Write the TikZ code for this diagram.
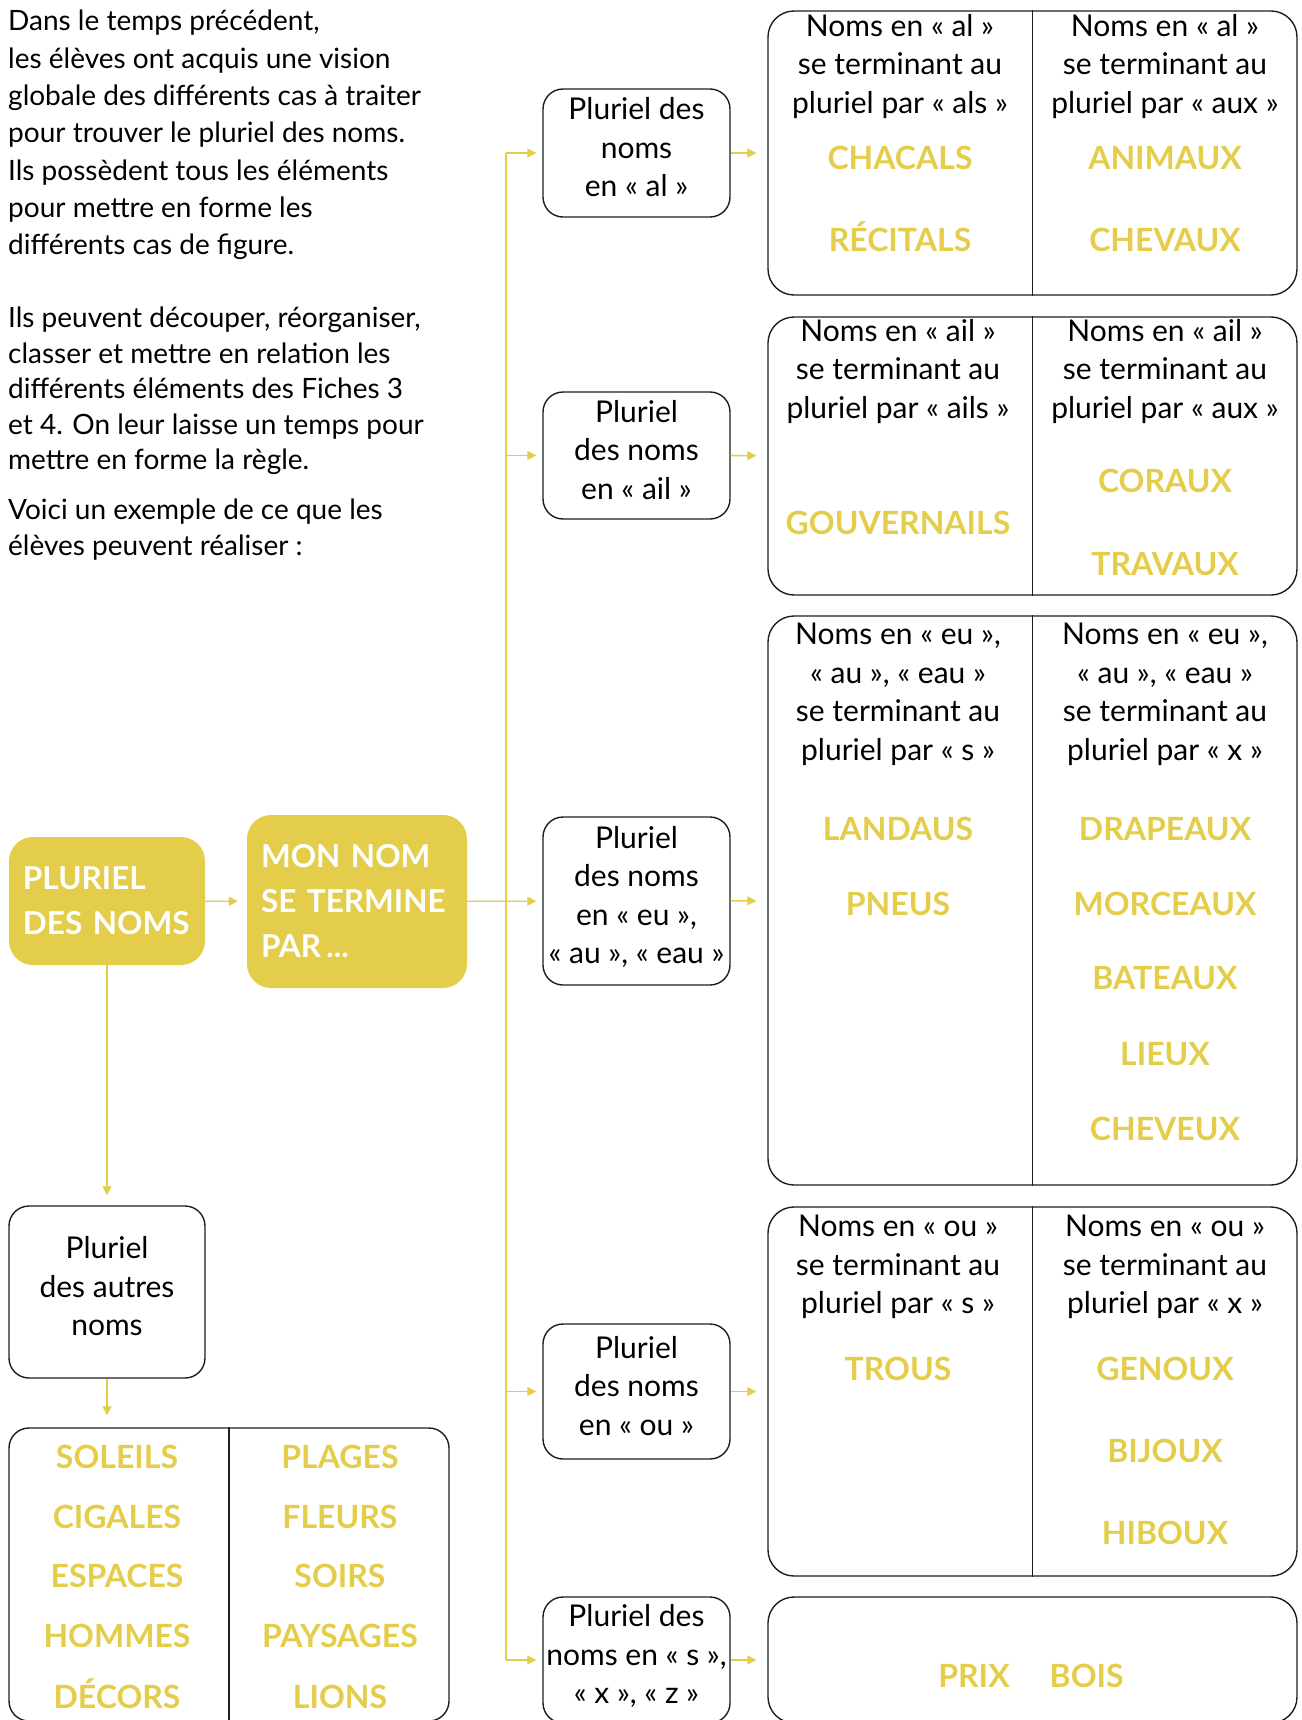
\documentclass[tikz,border=0pt]{standalone}
\usepackage{fontspec}
\setmainfont{Lato}
\usetikzlibrary{arrows.meta, positioning}
\definecolor{pyellow}{RGB}{227,205,74}
\definecolor{pline}{RGB}{30,30,30}
\hyphenpenalty=10000
\exhyphenpenalty=10000

\tikzset{
  box/.style={draw=pline, line width=1.4pt, rounded corners=20pt, inner sep=1pt, text depth=12pt, align=center, minimum width=187pt, font=\fontsize{30}{38.5}\selectfont},
  bigbox/.style={draw=pline, line width=1.4pt, rounded corners=26pt, minimum width=529pt},
  keybox/.style={fill=pyellow, rounded corners=24pt, text=white, align=left, inner xsep=14pt, font=\fontsize{31.5}{45}\selectfont\bfseries},
  intro/.style={anchor=north west, align=left, inner sep=0pt, font=\fontsize{28}{37.3}\selectfont},
  head/.style={anchor=north, align=center, inner sep=0pt, font=\fontsize{30}{38.5}\selectfont},
  word/.style={anchor=base, inner sep=0pt, text=pyellow, font=\fontsize{32}{40}\selectfont\bfseries},
  divider/.style={draw=pline, line width=1.1pt},
  link/.style={draw=pyellow, line width=1.3pt},
  arr/.style={link, -{Triangle[length=9pt,width=9pt]}},
}

\begin{document}
\begin{tikzpicture}[x=1pt, y=-1pt]
    \useasboundingbox (0,0) rectangle (1301,1720);

    % Intro text
    \node (intro1) [intro] at (8,10) {Dans le temps précédent,\\les élèves ont acquis une vision\\globale des différents cas à traiter\\pour trouver le pluriel des noms.\\Ils possèdent tous les éléments\\pour mettre en forme les\\différents cas de figure.};
    \node (intro2) [intro, font=\fontsize{28}{35.4}\selectfont] at (8,307) {Ils peuvent découper, réorganiser,\\classer et mettre en relation les\\différents éléments des Fiches 3\\et 4. On leur laisse un temps pour\\mettre en forme la règle.};
    \node (intro3) [intro, font=\fontsize{28}{36}\selectfont] at (8,499) {Voici un exemple de ce que les\\élèves peuvent réaliser :};

    % Yellow boxes
    \node (pluriel) [keybox, text width=168pt, minimum height=128pt] at (107,901) {PLURIEL\\DES NOMS};
    \node (monnom) [keybox, text width=192pt, minimum height=173pt] at (357,901.5) {MON NOM\\SE TERMINE\\PAR\,...};

    % Small boxes
    \node (alsmall) [box, minimum height=128pt] at (636.5,153) {Pluriel des\\noms\\en «~al~»};
    \node (ailsmall) [box, minimum height=127pt] at (636.5,455.5) {Pluriel\\des noms\\en «~ail~»};
    \node (eusmall) [box, minimum height=168pt] at (636.5,901) {Pluriel\\des noms\\en «~eu~»,\\«~au~», «~eau~»};
    \node (ousmall) [box, minimum height=135pt] at (636.5,1391.5) {Pluriel\\des noms\\en «~ou~»};
    \node (sxzsmall) [box, minimum height=126pt] at (636.5,1660) {Pluriel des\\noms en «~s~»,\\«~x~», «~z~»};

    % Big boxes
    \node (albig) [bigbox, minimum height=284pt] at (1032.5,153) {};
    \node (ailbig) [bigbox, minimum height=278pt] at (1032.5,456) {};
    \node (eubig) [bigbox, minimum height=569pt] at (1032.5,900.5) {};
    \node (oubig) [bigbox, minimum height=369pt] at (1032.5,1391.5) {};
    \node (sxzbig) [bigbox, minimum height=126pt] at (1032.5,1660) {};
    \draw[divider] (albig.north) -- (albig.south);
    \draw[divider] (ailbig.north) -- (ailbig.south);
    \draw[divider] (eubig.north) -- (eubig.south);
    \draw[divider] (oubig.north) -- (oubig.south);

    % Other nouns
    \node (autres) [box, minimum width=196pt, minimum height=172pt] at (107,1292) {Pluriel\\des autres\\noms};
    \node (autreslist) [bigbox, rounded corners=20pt, minimum width=440pt, minimum height=293pt] at (229,1574.5) {};
    \draw[divider] (autreslist.north) -- (autreslist.south);

    % Headers
    \node (alleft) [head] at (900,14) {Noms en «~al~»\\se terminant au\\pluriel par «~als~»};
    \node (alright) [head] at (1165,14) {Noms en «~al~»\\se terminant au\\pluriel par «~aux~»};
    \node (ailleft) [head] at (898,319) {Noms en «~ail~»\\se terminant au\\pluriel par «~ails~»};
    \node (ailright) [head] at (1165,319) {Noms en «~ail~»\\se terminant au\\pluriel par «~aux~»};
    \node (euleft) [head] at (898,623) {Noms en «~eu~»,\\«~au~», «~eau~»\\se terminant au\\pluriel par «~s~»};
    \node (euright) [head] at (1165,623) {Noms en «~eu~»,\\«~au~», «~eau~»\\se terminant au\\pluriel par «~x~»};
    \node (ouleft) [head] at (898,1215) {Noms en «~ou~»\\se terminant au\\pluriel par «~s~»};
    \node (ouright) [head] at (1165,1215) {Noms en «~ou~»\\se terminant au\\pluriel par «~x~»};

    % Words in « al »
    \node (chacals) [word] at (900,169.5) {CHACALS};
    \node (recitals) [word] at (900,251.5) {RÉCITALS};
    \node (animaux) [word] at (1165,169.5) {ANIMAUX};
    \node (chevaux) [word] at (1165,251.5) {CHEVAUX};
    % Words in « ail »
    \node (gouvernails) [word] at (898,534.5) {GOUVERNAILS};
    \node (coraux) [word] at (1165,492.5) {CORAUX};
    \node (travaux) [word] at (1165,575.5) {TRAVAUX};
    % Words in « eu », « au », « eau »
    \node (landaus) [word] at (898,840.5) {LANDAUS};
    \node (pneus) [word] at (898,915.5) {PNEUS};
    \node (drapeaux) [word] at (1165,840.5) {DRAPEAUX};
    \node (morceaux) [word] at (1165,915.5) {MORCEAUX};
    \node (bateaux) [word] at (1165,989.5) {BATEAUX};
    \node (lieux) [word] at (1165,1065.5) {LIEUX};
    \node (cheveux) [word] at (1165,1140.5) {CHEVEUX};
    % Words in « ou »
    \node (trous) [word] at (898,1380.5) {TROUS};
    \node (genoux) [word] at (1165,1380.5) {GENOUX};
    \node (bijoux) [word] at (1165,1462.5) {BIJOUX};
    \node (hiboux) [word] at (1165,1544.5) {HIBOUX};
    % Words in « s », « x », « z »
    \node (prixbois) [word] at (1031,1687.5) {PRIX\hspace{40pt}BOIS};
    % Other words
    \node (soleils) [word] at (117,1468.5) {SOLEILS};
    \node (cigales) [word] at (117,1528.5) {CIGALES};
    \node (espaces) [word] at (117,1587.5) {ESPACES};
    \node (hommes) [word] at (117,1647.5) {HOMMES};
    \node (decors) [word] at (117,1708.5) {DÉCORS};
    \node (plages) [word] at (340,1468.5) {PLAGES};
    \node (fleurs) [word] at (340,1528.5) {FLEURS};
    \node (soirs) [word] at (340,1587.5) {SOIRS};
    \node (paysages) [word] at (340,1647.5) {PAYSAGES};
    \node (lions) [word] at (340,1708.5) {LIONS};

    % Edges
    \coordinate (trunk) at (506,0);
    \draw[arr, shorten >=9pt] (pluriel) -- (monnom);
    \draw[arr, shorten >=6pt] (monnom) -- (eusmall);
    \draw[link] (trunk |- alsmall) -- (trunk |- sxzsmall);
    \draw[arr, shorten >=6pt] (trunk |- alsmall) -- (alsmall);
    \draw[arr, shorten >=6pt] (trunk |- ailsmall) -- (ailsmall);
    \draw[arr, shorten >=6pt] (trunk |- ousmall) -- (ousmall);
    \draw[arr, shorten >=6pt] (trunk |- sxzsmall) -- (sxzsmall);
    \draw[arr, shorten >=11pt] (alsmall) -- (albig);
    \draw[arr, shorten >=11pt] (ailsmall) -- (ailbig);
    \draw[arr, shorten >=11pt] (eusmall) -- (eubig);
    \draw[arr, shorten >=11pt] (ousmall) -- (oubig);
    \draw[arr, shorten >=11pt] (sxzsmall) -- (sxzbig);
    \draw[arr, shorten >=10pt] (pluriel) -- (autres);
    \draw[arr, shorten >=12pt] (autres) -- (autres |- autreslist.north);
\end{tikzpicture}
\end{document}
